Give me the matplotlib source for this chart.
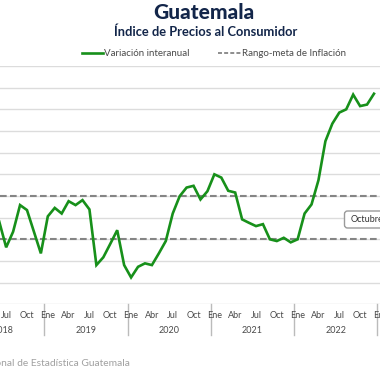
import numpy as np
import matplotlib
matplotlib.use('Agg')
import matplotlib.pyplot as plt
import matplotlib.transforms as mtransforms
from matplotlib.lines import Line2D
from matplotlib.patches import FancyBboxPatch

plt.rcParams['font.family'] = ['Lato', 'DejaVu Sans']

# monthly CPI year-on-year variation (%), Jun 2018 .. Dec 2022
start_year, start_month = 2018, 6
inflacion = [3.82, 2.63, 3.35, 4.58, 4.35, 3.35, 2.35,                        # 2018 Jun-Dec
             4.06, 4.45, 4.19, 4.76, 4.58, 4.81, 4.38, 1.81, 2.17, 2.79, 3.42, 1.81,   # 2019
             1.24, 1.73, 1.89, 1.81, 2.35, 2.92, 4.19, 4.99, 5.39, 5.47, 4.84, 5.22,   # 2020
             6.00, 5.85, 5.24, 5.16, 3.92, 3.76, 3.61, 3.70, 3.00, 2.92, 3.07, 2.86,   # 2021
             3.00, 4.19, 4.61, 5.73, 7.53, 8.34, 8.85, 9.00, 9.68, 9.15, 9.22, 9.72]   # 2022
meta_baja, meta_alta = 3.0, 5.0
years = [2018, 2019, 2020, 2021, 2022, 2023]
month_labels = ['Ene', 'Abr', 'Jul', 'Oct']

# month index relative to Jan 2019
m0 = (start_year - 2019) * 12 + (start_month - 1)
x = np.arange(m0, m0 + len(inflacion))

green = '#17901a'
navy = '#13264a'
grey_txt = '#4a4a4a'

fig = plt.figure(figsize=(3.8, 3.8), dpi=100)
ax = fig.add_axes([0, 0.1992, 1, 0.6271])
ax.set_xlim(-6.888, 47.867)
ax.set_ylim(0, 11)
for s in ax.spines.values():
    s.set_visible(False)
ax.set_xticks([])
ax.set_yticks([])

for v in range(0, 12):
    ax.axhline(v, color='#dcdcdc', lw=1.0, zorder=1)

dash = (0, (3.2, 1.6))
ax.axhline(meta_alta, color='#858585', lw=1.5, linestyle=dash, zorder=2)
ax.axhline(meta_baja, color='#858585', lw=1.5, linestyle=dash, zorder=2)

ax.plot(x, inflacion, color=green, lw=1.9, zorder=3, solid_joinstyle='miter')

trans = mtransforms.blended_transform_factory(ax.transData, ax.transAxes)
for i, yr in enumerate(years):
    base = (yr - 2019) * 12
    for k, lab in enumerate(month_labels):
        ax.text(base + 3 * k, -0.045, lab, transform=trans, ha='center', va='center',
                fontsize=6.5, color=grey_txt, clip_on=False)
    ax.text(base + 5.5, -0.108, str(yr), transform=trans, ha='center', va='center',
            fontsize=6.5, color=grey_txt, clip_on=False)
    ax.plot([base - 0.5, base - 0.5], [0, -0.129], transform=trans, color='#bbbbbb',
            lw=1.0, clip_on=False)

# titles
fig.text(0.537, 1 - 12.5 / 380, 'Guatemala', ha='center', va='center', fontsize=15,
         fontweight='black', color=navy)
fig.text(0.540, 1 - 31.5 / 380, 'Índice de Precios al Consumidor', ha='center', va='center',
         fontsize=9.3, fontweight='bold', color=navy)

# legend
ly = 1 - 53.3 / 380
fig.add_artist(Line2D([82 / 380, 103 / 380], [ly, ly], color=green, lw=1.9))
fig.text(104 / 380, ly, 'Variación interanual', ha='left', va='center', fontsize=7,
         color=grey_txt)
fig.add_artist(Line2D([218 / 380, 241 / 380], [ly, ly], color='#858585', lw=1.3,
                      linestyle=(0, (2.2, 1.2))))
fig.text(242 / 380, ly, 'Rango-meta de Inflación', ha='left', va='center', fontsize=7,
         color=grey_txt)

# partially visible annotation box
box = FancyBboxPatch((344.5 / 380, 1 - 228 / 380), 60 / 380, 17 / 380,
                     boxstyle='round,pad=0,rounding_size=0.008', transform=fig.transFigure,
                     facecolor='white', edgecolor='#9a9a9a', lw=1.0, zorder=5)
fig.add_artist(box)
fig.text(351 / 380, 1 - 219.5 / 380, 'Octubre', ha='left', va='center', fontsize=6.5,
         color='#333333', zorder=6)

fig.text(130 / 380, 1 - 363 / 380, 'Fuente: Instituto Nacional de Estadística Guatemala',
         ha='right', va='center', fontsize=7.4, color='#a0a0a0')

fig.savefig('out.png', dpi=100)
